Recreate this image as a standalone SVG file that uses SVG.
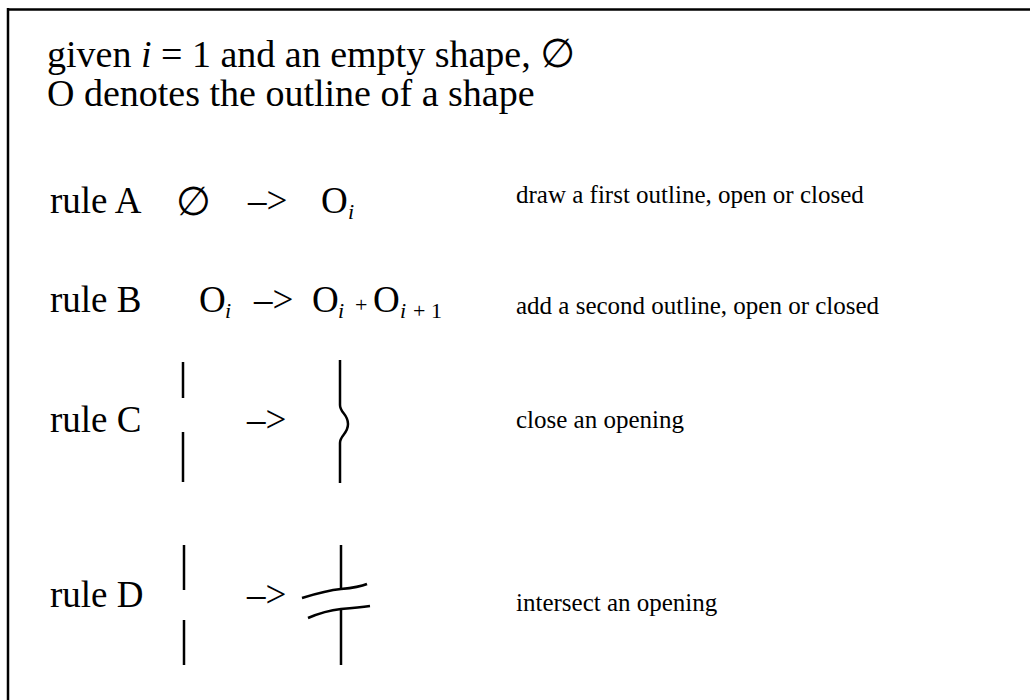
<svg xmlns="http://www.w3.org/2000/svg" width="1030" height="700" viewBox="0 0 1030 700">
<style>
.h{font-family:"Liberation Serif","Times New Roman",serif;font-size:38px;fill:#000}
.t{font-family:"Liberation Serif","Times New Roman",serif;font-size:37px;fill:#000}
.d{font-family:"Liberation Serif","Times New Roman",serif;font-size:25px;fill:#000}
.sub{font-family:"Liberation Serif","Times New Roman",serif;font-size:22px;font-style:italic;fill:#000}
.subn{font-family:"Liberation Serif","Times New Roman",serif;font-size:22px;fill:#000}
.sym{font-family:"DejaVu Sans",sans-serif;font-size:40px;fill:#000}
.ln{stroke:#000;stroke-width:2.5;fill:none;stroke-linecap:butt}
</style>
<rect width="1030" height="700" fill="#fff"/>
<g id="frame">
<line class="ln" x1="7" y1="9.5" x2="1030" y2="9.5"/>
<line class="ln" x1="8" y1="8" x2="8" y2="700"/>
</g>
<g id="header">
<text class="h" x="47" y="67">given <tspan font-style="italic">i</tspan> = 1 and an empty shape, <tspan class="sym">∅</tspan></text>
<text class="h" x="47" y="106">O denotes the outline of a shape</text>
</g>
<g id="ruleA">
<text class="t" x="50" y="213">rule A</text>
<text class="sym" x="176" y="215">∅</text>
<text class="t" x="248" y="213">–&gt;</text>
<text class="t" x="321" y="213">O</text><text class="sub" x="348" y="219">i</text>
<text class="d" x="516" y="203">draw a first outline, open or closed</text>
</g>
<g id="ruleB">
<text class="t" x="50" y="312">rule B</text>
<text class="t" x="199" y="312">O</text><text class="sub" x="225" y="318">i</text>
<text class="t" x="254" y="312">–&gt;</text>
<text class="t" x="312" y="312">O</text><text class="sub" x="338" y="318">i</text>
<text class="subn" x="355" y="312">+</text>
<text class="t" x="373" y="312">O</text><text class="sub" x="400" y="318">i</text><text class="subn" x="413" y="318">+ 1</text>
<text class="d" x="516" y="314">add a second outline, open or closed</text>
</g>
<g id="ruleC">
<text class="t" x="50" y="432">rule C</text>
<line class="ln" x1="183" y1="362" x2="183" y2="398"/>
<line class="ln" x1="183" y1="432" x2="183" y2="482"/>
<text class="t" x="247" y="432">–&gt;</text>
<path class="ln" d="M340,360 L340,405 C340,413 348,414 348,424 C348,434 340,435 340,443 L340,483"/>
<text class="d" x="516" y="428">close an opening</text>
</g>
<g id="ruleD">
<text class="t" x="50" y="607">rule D</text>
<line class="ln" x1="184" y1="545" x2="184" y2="590"/>
<line class="ln" x1="184" y1="620" x2="184" y2="665"/>
<text class="t" x="247" y="607">–&gt;</text>
<line class="ln" x1="341" y1="545" x2="341" y2="589"/>
<path class="ln" d="M302,598 C318,593 330,590 341,589 C352,588 360,587 367,584"/>
<path class="ln" d="M308,618 C322,612 332,610 341,609 C352,608 362,607 370,606"/>
<line class="ln" x1="341" y1="609" x2="341" y2="665"/>
<text class="d" x="516" y="611">intersect an opening</text>
</g>
</svg>
